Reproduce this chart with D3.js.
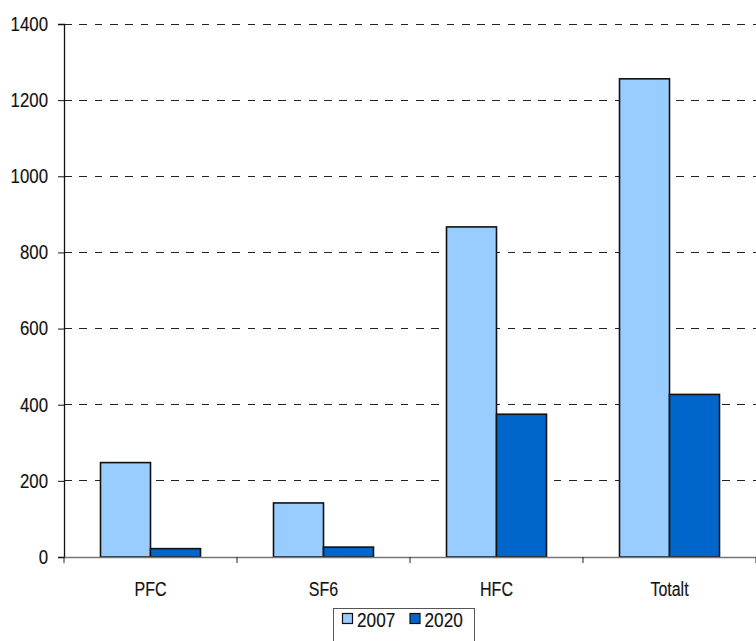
<!DOCTYPE html>
<html>
<head>
<meta charset="utf-8">
<script src="https://cdn.jsdelivr.net/npm/d3@7"></script>
<style>
  body { margin: 0; background: #fff; }
  svg { display: block; }
  text { font-family: "Liberation Sans", Arial, sans-serif; fill: #111; stroke: #111; stroke-width: 0.15px; }
</style>
</head>
<body>
<svg id="chart" width="756" height="641"></svg>
<script>
// Emissions by gas group, 2007 vs 2020
const categories = ["PFC", "SF6", "HFC", "Totalt"];
const seriesNames = ["2007", "2020"];
const values2007 = [248, 142, 867, 1256];
const values2020 = [22, 26, 375, 427];
const yTicks = [0, 200, 400, 600, 800, 1000, 1200, 1400];
const colors = ["#99CCFF", "#0066CC"];

const FONT = '"Liberation Sans", Arial, sans-serif';
const FONT_SIZE = 20;

const svg = d3.select("#chart");
const plotLeft = 64, plotRight = 756, plotTop = 24, plotBottom = 557;

// squeeze glyphs horizontally to get a condensed face
function condense(sel, factor) {
  sel.each(function () {
    const w = this.getComputedTextLength();
    d3.select(this).attr("textLength", w * factor).attr("lengthAdjust", "spacingAndGlyphs");
  });
}

const x = d3.scaleBand().domain(categories).range([plotLeft, plotRight]).padding(0);
const inner = d3.scaleBand().domain(seriesNames)
  .range([x.bandwidth() / 2 - 50, x.bandwidth() / 2 + 50]).padding(0);
const y = d3.scaleLinear().domain([0, 1400]).range([plotBottom, plotTop]);

// dashed gridlines
svg.append("g").selectAll("line").data(yTicks.filter(d => d > 0)).join("line")
  .attr("x1", plotLeft).attr("x2", plotRight)
  .attr("y1", d => y(d)).attr("y2", d => y(d))
  .attr("stroke", "#222").attr("stroke-width", 1)
  .attr("stroke-dasharray", "7.7,7.6")
  .attr("shape-rendering", "crispEdges");

// bars
const rows = categories.map((c, i) => ({ cat: c, vals: [values2007[i], values2020[i]] }));
const groups = svg.append("g").selectAll("g").data(rows).join("g")
  .attr("transform", d => `translate(${x(d.cat)},0)`);
groups.selectAll("rect")
  .data(d => d.vals.map((v, j) => ({ key: seriesNames[j], v, j })))
  .join("rect")
  .attr("x", d => inner(d.key))
  .attr("width", inner.bandwidth())
  .attr("y", d => y(d.v))
  .attr("height", d => y(0) - y(d.v))
  .attr("fill", d => colors[d.j])
  .attr("stroke", "#111").attr("stroke-width", 1.6);

// y axis
const yAxis = svg.append("g").attr("transform", `translate(${plotLeft},0)`)
  .call(d3.axisLeft(y).tickValues(yTicks).tickSize(6).tickPadding(10).tickFormat(d3.format("d")));
yAxis.select(".domain").attr("stroke", "#111").attr("stroke-width", 1.3);
yAxis.selectAll(".tick line").attr("stroke", "#111");
yAxis.selectAll("text").attr("font-size", FONT_SIZE).attr("fill", "#111").style("font-family", FONT)
  .call(condense, 0.84);

// x axis
const xAxis = svg.append("g").attr("transform", `translate(0,${plotBottom})`)
  .call(d3.axisBottom(x).tickSize(0).tickPadding(25));
xAxis.select(".domain").attr("stroke", "#777").attr("stroke-width", 1.3);
xAxis.selectAll("text").attr("font-size", FONT_SIZE).attr("fill", "#111").style("font-family", FONT)
  .call(condense, 0.8);
svg.append("g").selectAll("line").data(d3.range(categories.length + 1)).join("line")
  .attr("x1", i => plotLeft + i * x.bandwidth()).attr("x2", i => plotLeft + i * x.bandwidth())
  .attr("y1", plotBottom).attr("y2", plotBottom + 6)
  .attr("stroke", "#222").attr("stroke-width", 1);

// legend
const lg = svg.append("g").attr("transform", "translate(333,608)");
lg.append("rect").attr("x", 0.5).attr("y", 0.5).attr("width", 141).attr("height", 40)
  .attr("fill", "#fff").attr("stroke", "#555").attr("stroke-width", 1);
const items = lg.selectAll("g").data(seriesNames).join("g")
  .attr("transform", (d, i) => `translate(${9 + i * 67.5},0)`);
items.append("rect").attr("x", 0.5).attr("y", 5.5).attr("width", 10).attr("height", 10)
  .attr("fill", (d, i) => colors[i]).attr("stroke", "#111").attr("stroke-width", 1.2);
items.append("text").attr("x", 15).attr("y", 19).attr("font-size", FONT_SIZE).text(d => d)
  .call(condense, 0.86);
</script>
</body>
</html>
